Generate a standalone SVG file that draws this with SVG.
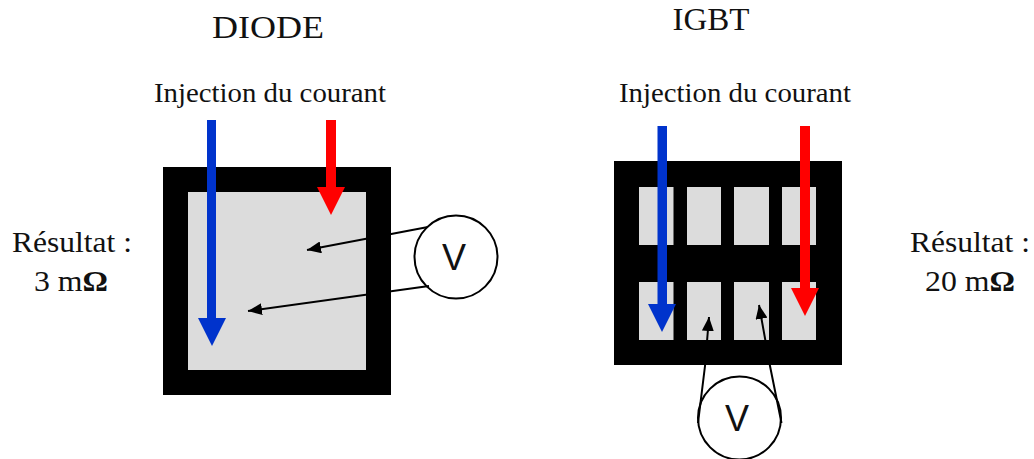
<svg xmlns="http://www.w3.org/2000/svg" width="1034" height="459" viewBox="0 0 1034 459">
<style>
text{font-family:"Liberation Serif","Times New Roman",serif;fill:#111;font-size:27px}
.m{text-anchor:middle}
.t{font-size:32px}
.r{font-size:29px}
.v{font-family:"Liberation Sans",Arial,sans-serif;font-size:36px;text-anchor:middle}
.b{fill:#000}.g{fill:#dcdcdc}
.c{fill:#fff;stroke:#000;stroke-width:2}
.w{fill:none;stroke:#000;stroke-width:2}
</style>
<defs>
<marker id="ah" markerUnits="userSpaceOnUse" markerWidth="14" markerHeight="12" refX="14" refY="6" orient="auto"><path d="M0 0L14 6L0 12Z" fill="#000"/></marker>
</defs>
<rect width="1034" height="459" fill="#fff"/>
<g id="labels">
<text x="268" y="38" class="m t" textLength="112" lengthAdjust="spacingAndGlyphs">DIODE</text>
<text x="711" y="30" class="m t" textLength="77" lengthAdjust="spacingAndGlyphs">IGBT</text>
<text x="270" y="102" class="m" textLength="232" lengthAdjust="spacingAndGlyphs">Injection du courant</text>
<text x="735" y="102" class="m" textLength="232" lengthAdjust="spacingAndGlyphs">Injection du courant</text>
<text x="72" y="252" class="m r" textLength="120" lengthAdjust="spacingAndGlyphs">Résultat :</text>
<text x="71" y="291" class="m r" textLength="74" lengthAdjust="spacingAndGlyphs">3 m<tspan font-weight="bold">Ω</tspan></text>
<text x="970" y="252" class="m r" textLength="120" lengthAdjust="spacingAndGlyphs">Résultat :</text>
<text x="970" y="291" class="m r" textLength="90" lengthAdjust="spacingAndGlyphs">20 m<tspan font-weight="bold">Ω</tspan></text>
</g>
<g id="diode">
<rect class="b" x="163" y="167" width="228" height="228"/>
<rect class="g" x="188" y="192" width="178" height="178"/>
</g>
<g id="igbt">
<rect class="b" x="614" y="161" width="228" height="204"/>
<rect class="g" x="639" y="187" width="34.500" height="58"/>
<rect class="g" x="687" y="187" width="34" height="58"/>
<rect class="g" x="734" y="187" width="35" height="58"/>
<rect class="g" x="782" y="187" width="34" height="58"/>
<rect class="g" x="639" y="282" width="34.500" height="58"/>
<rect class="g" x="687" y="282" width="34" height="58"/>
<rect class="g" x="734" y="282" width="35" height="58"/>
<rect class="g" x="782" y="282" width="34" height="58"/>
</g>
<g id="meter-diode">
<circle class="c" cx="456" cy="257" r="41.500"/>
<text class="v" x="454" y="270">V</text>
</g>
<g id="meter-igbt">
<circle class="c" cx="739.500" cy="418" r="41.500"/>
<text class="v" x="737" y="431">V</text>
</g>
<g id="connectors">
<path class="w" d="M428 227L307 250" marker-end="url(#ah)"/>
<path class="w" d="M429 286L248 311" marker-end="url(#ah)"/>
<path class="w" d="M698 423L705 366L709 317" marker-end="url(#ah)"/>
<path class="w" d="M781.500 423L770 366L759 305" marker-end="url(#ah)"/>
<path fill="#0033cc" d="M207 120H216V318H226L212 346L198 318H207Z"/>
<path fill="#f00" d="M326 120H336V187H345L331 215L317 187H326Z"/>
<path fill="#0033cc" d="M657.500 126H667V304H676L662 332L648 304H657.500Z"/>
<path fill="#f00" d="M800 126H810V288H819L805 316L791 288H800Z"/>
</g>
</svg>
